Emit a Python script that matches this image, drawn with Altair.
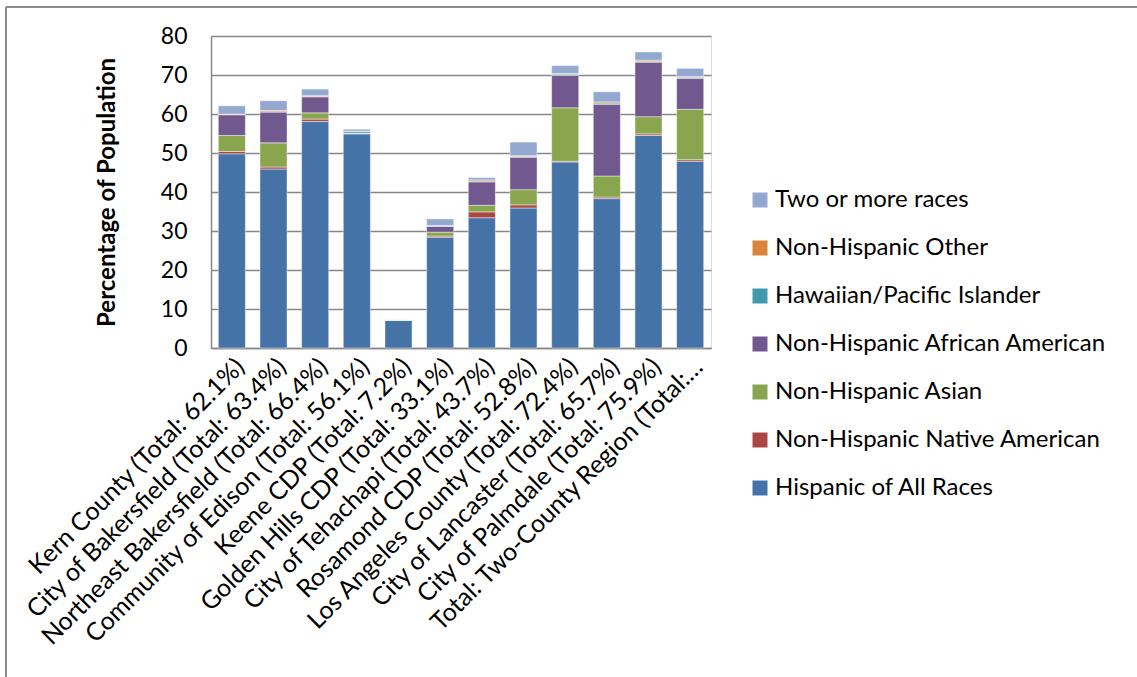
import altair as alt
import pandas as pd

# Places (bar order, left to right)
places = [
    "Kern County (Total: 62.1%)",
    "City of Bakersfield (Total: 63.4%)",
    "Northeast Bakersfield (Total: 66.4%)",
    "Community of Edison (Total: 56.1%)",
    "Keene CDP (Total: 7.2%)",
    "Golden Hills CDP (Total: 33.1%)",
    "City of Tehachapi (Total: 43.7%)",
    "Rosamond CDP (Total: 52.8%)",
    "Los Angeles County (Total: 72.4%)",
    "City of Lancaster (Total: 65.7%)",
    "City of Palmdale (Total: 75.9%)",
    "Total: Two-County Region (Total: 71.7%)",
]

# Percentage of population by group, one value per place
hispanic = [49.8, 45.9, 58.1, 54.9, 7.1, 28.4, 33.4, 35.9, 47.7, 38.3, 54.5, 47.9]
native_american = [0.6, 0.5, 0.6, 0.1, 0.0, 0.3, 1.5, 0.8, 0.2, 0.4, 0.4, 0.4]
asian = [4.1, 6.2, 1.6, 0.1, 0.0, 1.0, 1.7, 3.9, 13.7, 5.4, 4.4, 12.9]
african_american = [5.3, 7.9, 4.1, 0.0, 0.0, 1.5, 6.0, 8.3, 8.3, 18.4, 14.0, 7.9]
pacific_islander = [0.1, 0.1, 0.1, 0.4, 0.0, 0.1, 0.2, 0.2, 0.3, 0.3, 0.2, 0.3]
other = [0.1, 0.3, 0.2, 0.1, 0.0, 0.1, 0.3, 0.2, 0.2, 0.3, 0.3, 0.2]
two_or_more = [2.1, 2.5, 1.7, 0.5, 0.1, 1.7, 0.6, 3.5, 2.0, 2.6, 2.1, 2.1]

# Series from bottom of the stack to the top
series_names = [
    "Hispanic of All Races",
    "Non-Hispanic Native American",
    "Non-Hispanic Asian",
    "Non-Hispanic African American",
    "Hawaiian/Pacific Islander",
    "Non-Hispanic Other",
    "Two or more races",
]
series_values = [hispanic, native_american, asian, african_american,
                 pacific_islander, other, two_or_more]
series_colors = ["#4572A7", "#AA4643", "#89A54E", "#71588F",
                 "#4198AF", "#DB843D", "#93A9CF"]

rows = []
for s_idx, (name, vals) in enumerate(zip(series_names, series_values)):
    for place, v in zip(places, vals):
        rows.append({"place": place, "group": name, "value": v, "stack": s_idx})
df = pd.DataFrame(rows)

FONT = "Lato"
GRID = "#878787"

bars = alt.Chart(df).mark_bar(
    stroke="white", strokeWidth=1, strokeOpacity=0.45
).encode(
    x=alt.X(
        "place:N",
        sort=places,
        title=None,
        scale=alt.Scale(paddingInner=0.35, paddingOuter=0.175),
        axis=alt.Axis(
            labelAngle=315,
            labelFontSize=25,
            labelFont=FONT,
            labelColor="black",
            labelPadding=6,
            labelLimit=0,
            labelExpr="length(datum.label) > 36 ? slice(datum.label, 0, 32) + '…' : datum.label",
            ticks=False,
            domainColor=GRID,
            domainWidth=1.5,
        ),
    ),
    y=alt.Y(
        "value:Q",
        stack="zero",
        scale=alt.Scale(domain=[0, 80], nice=False),
        axis=alt.Axis(
            values=[0, 10, 20, 30, 40, 50, 60, 70, 80],
            title="Percentage of Population",
            titleFont=FONT,
            titleFontSize=24,
            titleFontWeight="bold",
            titleColor="black",
            titleX=-104,
            titleY=156,
            titleAngle=270,
            titleAlign="center",
            titleBaseline="middle",
            labelFont=FONT,
            labelFontSize=23,
            labelColor="black",
            labelPadding=24,
            ticks=False,
            grid=True,
            gridColor=GRID,
            gridWidth=1.5,
            domainColor=GRID,
            domainWidth=1.5,
        ),
    ),
    color=alt.Color(
        "group:N",
        scale=alt.Scale(domain=series_names[::-1], range=series_colors[::-1]),
        legend=alt.Legend(
            title=None,
            orient="none",
            legendX=537,
            legendY=152,
            padding=0,
            symbolType="square",
            symbolSize=225,
            symbolStrokeWidth=0,
            symbolOpacity=1,
            labelFont=FONT,
            labelFontSize=24,
            labelColor="black",
            labelOffset=3,
            rowPadding=24,
            labelLimit=450,
        ),
    ),
    order=alt.Order("stack:Q", sort="ascending"),
)

# Chart-area frame along the top and left edges
frame_top = alt.Chart(pd.DataFrame({"k": [0]})).mark_rule(
    color="#8c8c8c", strokeWidth=2
).encode(x=alt.value(-205), x2=alt.value(926), y=alt.value(-29))
frame_left = alt.Chart(pd.DataFrame({"k": [0]})).mark_rule(
    color="#8c8c8c", strokeWidth=2
).encode(x=alt.value(-205), y=alt.value(-29), y2=alt.value(641))

chart = alt.layer(bars, frame_top, frame_left).properties(
    width=500,
    height=312,
    autosize=alt.AutoSizeParams(type="none"),
    padding={"left": 211, "top": 36, "right": 426, "bottom": 329},
).configure_view(stroke=None).configure(background="white")

chart.save("out.html", embed_options={"renderer": "svg", "actions": False})
